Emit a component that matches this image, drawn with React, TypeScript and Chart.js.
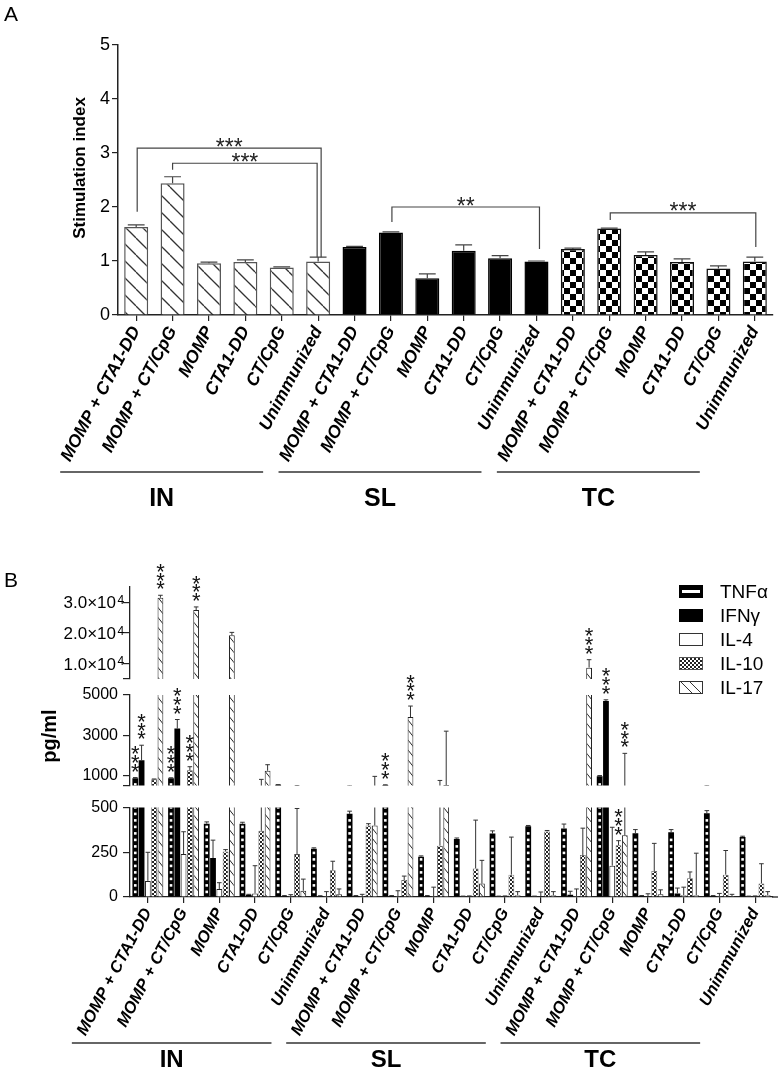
import React, { useEffect, useRef } from 'react';
import { Chart, registerables } from 'chart.js';

Chart.register(...registerables);

const FONT = '"Liberation Sans", Arial, Helvetica, sans-serif';
const INK = '#222222';

// ---------------- Panel A: stimulation index ----------------
const groupNames = ['IN', 'SL', 'TC'];
const treatments = ['MOMP + CTA1-DD', 'MOMP + CT/CpG', 'MOMP', 'CTA1-DD', 'CT/CpG', 'Unimmunized'];
const categories = groupNames.flatMap(() => treatments);

const siValues = [1.63, 2.44, 0.96, 0.98, 0.88, 0.99, 1.26, 1.53, 0.68, 1.19, 1.05, 0.99, 1.22, 1.6, 1.11, 0.98, 0.86, 0.99];
const siErrors = [0.04, 0.12, 0.02, 0.04, 0.01, 0.08, 0.01, 0.01, 0.08, 0.11, 0.05, 0.01, 0.02, 0.01, 0.06, 0.06, 0.05, 0.08];
const siTicks = [0, 1, 2, 3, 4, 5];
const siBracketPairs = [[0, 5], [1, 5], [7, 11], [13, 17]];
const siBracketLevels = [3.09, 2.81, 2.0, 1.89];
const siBracketLegEnds = [[1.91, 1.07], [2.69, 1.07], [1.72, 1.22], [1.76, 1.26]];
const siBracketLabels = ['***', '***', '**', '***'];

// ---------------- Panel B: cytokines (pg/ml) ----------------
const cytokines = ['TNFα', 'IFNγ', 'IL-4', 'IL-10', 'IL-17'];
const tnfValues = [850, 850, 410, 410, 530, 270, 465, 520, 225, 325, 355, 395, 383, 950, 357, 362, 468, 335];
const tnfErrors = [40, 30, 10, 8, 10, 5, 15, 10, 5, 5, 15, 5, 25, 40, 20, 15, 15, 5];
const ifnValues = [1750, 3330, 218, 12, 5, 5, 5, 5, 5, 3, 3, 3, 12, 4700, 5, 20, 5, 3];
const ifnErrors = [750, 450, 100, 3, 3, 2, 3, 3, 3, 2, 2, 2, 20, 60, 3, 30, 3, 2];
const il4Values = [90, 240, 45, 20, 5, 5, 5, 5, 5, 3, 3, 3, 5, 175, 3, 10, 5, 3];
const il4Errors = [160, 125, 35, 155, 8, 25, 10, 30, 50, 3, 3, 25, 40, 215, 15, 45, 15, 3];
const il10Values = [800, 1250, 255, 370, 240, 150, 400, 95, 287, 160, 125, 367, 235, 290, 145, 105, 125, 76];
const il10Errors = [20, 180, 10, 430, 255, 50, 10, 22, 460, 270, 210, 5, 150, 25, 155, 35, 135, 110];
const il17Values = [31500, 27500, 19300, 1230, 35, 15, 400, 3900, 520, 75, 10, 10, 8700, 345, 15, 10, 5, 10];
const il17Errors = [800, 1000, 900, 300, 65, 30, 550, 550, 2680, 130, 20, 20, 2600, 1750, 25, 235, 10, 20];

const seriesValues = [tnfValues, ifnValues, il4Values, il10Values, il17Values];
const seriesErrors = [tnfErrors, ifnErrors, il4Errors, il10Errors, il17Errors];

// broken y axis: top, middle, bottom segments
const segmentRanges = [[5000, 35000], [500, 5000], [0, 500]];
const segmentTicks = [[5000, 10000, 20000, 30000], [500, 1000, 3000, 5000], [0, 250, 500]];
const segmentLabelled = [[10000, 20000, 30000], [1000, 3000, 5000], [0, 250, 500]];

// significance marks: [category index, cytokine index]
const starMarks = [[0, 0], [0, 1], [0, 4], [1, 0], [1, 1], [1, 3], [1, 4], [7, 0], [7, 4], [12, 4], [13, 1], [13, 3], [13, 4]];

// ---------------- helpers ----------------
function makePattern(w: number, h: number, paint: (g: CanvasRenderingContext2D) => void) {
  const c = document.createElement('canvas');
  c.width = w;
  c.height = h;
  const g = c.getContext('2d') as CanvasRenderingContext2D;
  paint(g);
  return g.createPattern(c, 'repeat') as CanvasPattern;
}

function diagPattern(w: number, h: number, lw: number, color: string) {
  return makePattern(w, h, (g) => {
    g.fillStyle = '#fff';
    g.fillRect(0, 0, w, h);
    g.strokeStyle = color;
    g.lineWidth = lw;
    for (const dx of [-w, 0, w]) {
      g.beginPath();
      g.moveTo(dx, 0);
      g.lineTo(dx + w, h);
      g.stroke();
    }
  });
}

function checkerPattern(cell: number, color: string) {
  return makePattern(cell * 2, cell * 2, (g) => {
    g.fillStyle = '#fff';
    g.fillRect(0, 0, cell * 2, cell * 2);
    g.fillStyle = color;
    g.fillRect(0, 0, cell, cell);
    g.fillRect(cell, cell, cell, cell);
  });
}

function centeredText(ctx: CanvasRenderingContext2D, text: string, x: number, yc: number) {
  const m = ctx.measureText(text);
  ctx.textBaseline = 'alphabetic';
  ctx.fillText(text, x, yc + (m.actualBoundingBoxAscent - m.actualBoundingBoxDescent) / 2);
}

function clipArea(chart: any) {
  const a = chart.chartArea;
  chart.ctx.beginPath();
  chart.ctx.rect(a.left, a.top, a.right - a.left, a.bottom - a.top);
  chart.ctx.clip();
}

const errorBarPlugin = {
  id: 'errorBars',
  afterDatasetsDraw(chart: any) {
    const { ctx } = chart;
    const ys = chart.scales.y;
    ctx.save();
    clipArea(chart);
    chart.data.datasets.forEach((ds: any, di: number) => {
      if (!ds.errors) return;
      const meta = chart.getDatasetMeta(di);
      meta.data.forEach((el: any, i: number) => {
        const e = ds.errors[i];
        if (!e) return;
        const p = el.getProps(['x', 'y', 'width'], true);
        const yErr = ys.getPixelForValue(ds.data[i] + e);
        const cap = (p.width * ds.capRatio) / 2;
        ctx.strokeStyle = ds.errorColor;
        ctx.lineWidth = ds.errorWidth;
        ctx.beginPath();
        ctx.moveTo(p.x, p.y);
        ctx.lineTo(p.x, yErr);
        ctx.moveTo(p.x - cap, yErr);
        ctx.lineTo(p.x + cap, yErr);
        ctx.stroke();
      });
    });
    ctx.restore();
  },
};

// white squares inside the TNFα bars
const dotsPlugin = {
  id: 'whiteDots',
  afterDatasetsDraw(chart: any) {
    const { ctx, chartArea: a } = chart;
    ctx.save();
    clipArea(chart);
    ctx.fillStyle = '#fff';
    chart.data.datasets.forEach((ds: any, di: number) => {
      if (!ds.whiteDots) return;
      chart.getDatasetMeta(di).data.forEach((el: any) => {
        const p = el.getProps(['x', 'y', 'base'], true);
        const top = Math.min(p.y, p.base);
        const bottom = Math.max(p.y, p.base);
        const step = 6.5;
        let k = Math.max(0, Math.floor((bottom - a.bottom) / step) - 1);
        for (; ; k++) {
          const yy = bottom - 4.5 - k * step;
          if (yy < top + 2.5 || yy < a.top - 5) break;
          ctx.fillRect(p.x - 1.3, yy - 1.3, 2.6, 2.6);
        }
      });
    });
    ctx.restore();
  },
};

function groupDecor(ctx: CanvasRenderingContext2D, xs: any, lineY: number, labelY: number, size: number) {
  ctx.save();
  ctx.strokeStyle = '#333';
  ctx.lineWidth = 1.3;
  ctx.fillStyle = '#000';
  ctx.font = `bold ${size}px ${FONT}`;
  ctx.textAlign = 'center';
  groupNames.forEach((g, gi) => {
    const first = gi * treatments.length;
    const last = first + treatments.length - 1;
    const x1 = xs.getPixelForValue(first) - 76;
    const x2 = xs.getPixelForValue(last) - 55;
    ctx.beginPath();
    ctx.moveTo(x1, lineY);
    ctx.lineTo(x2, lineY);
    ctx.stroke();
    centeredText(ctx, g, (x1 + x2) / 2, labelY);
  });
  ctx.restore();
}

// ---------------- chart builders ----------------
function buildChartA(canvas: HTMLCanvasElement) {
  const hatch = diagPattern(17, 17, 1.3, '#333');
  const checker = checkerPattern(6, '#000');
  const fills = categories.map((_, i) => [hatch, '#000', checker][Math.floor(i / treatments.length)]);
  const borders = categories.map((_, i) => ['#555', '#000', '#111'][Math.floor(i / treatments.length)]);

  const decorA = {
    id: 'decorA',
    afterDraw(chart: any) {
      const { ctx } = chart;
      const xs = chart.scales.x;
      const ys = chart.scales.y;
      ctx.save();
      ctx.fillStyle = '#000';
      ctx.font = `21px ${FONT}`;
      ctx.textAlign = 'left';
      ctx.textBaseline = 'alphabetic';
      ctx.fillText('A', 4, 21);

      ctx.save();
      ctx.translate(80, 168);
      ctx.rotate(-Math.PI / 2);
      ctx.font = `bold 17px ${FONT}`;
      ctx.textAlign = 'center';
      ctx.textBaseline = 'middle';
      ctx.fillText('Stimulation index', 0, 0);
      ctx.restore();

      const nudges = [[1, 3], [0, -1], [1, 3], [1, 1]];
      siBracketPairs.forEach(([a, b], k) => {
        const x1 = xs.getPixelForValue(a) + nudges[k][0];
        const x2 = xs.getPixelForValue(b) + nudges[k][1];
        const yt = ys.getPixelForValue(siBracketLevels[k]);
        ctx.strokeStyle = '#444';
        ctx.lineWidth = 1.2;
        ctx.beginPath();
        ctx.moveTo(x1, ys.getPixelForValue(siBracketLegEnds[k][0]));
        ctx.lineTo(x1, yt);
        ctx.lineTo(x2, yt);
        ctx.lineTo(x2, ys.getPixelForValue(siBracketLegEnds[k][1]));
        ctx.stroke();
        ctx.fillStyle = '#222';
        ctx.font = `23px ${FONT}`;
        ctx.textAlign = 'center';
        centeredText(ctx, siBracketLabels[k], (x1 + x2) / 2, yt - 6);
      });
      ctx.restore();
      groupDecor(ctx, xs, 472, 497, 25);
    },
  };

  return new Chart(canvas, {
    type: 'bar',
    data: {
      labels: categories,
      datasets: [
        {
          data: siValues,
          errors: siErrors,
          capRatio: 0.7,
          errorColor: '#444',
          errorWidth: 1.2,
          backgroundColor: fills,
          borderColor: borders,
          borderWidth: 1.5,
          barPercentage: 0.66,
          categoryPercentage: 1,
          clip: 0,
        } as any,
      ],
    },
    options: {
      animation: false,
      responsive: false,
      maintainAspectRatio: false,
      layout: { padding: { left: 0, right: 9, top: 45, bottom: 0 } },
      plugins: { legend: { display: false }, tooltip: { enabled: false } },
      scales: {
        x: {
          grid: { offset: false, drawOnChartArea: false, drawTicks: true, tickLength: 6, color: INK, lineWidth: 1.2 },
          border: { color: INK, width: 1.5 },
          ticks: {
            autoSkip: false,
            minRotation: 62,
            maxRotation: 62,
            padding: 2,
            color: '#000',
            font: { family: FONT, size: 17.5, weight: 'bold', style: 'italic' },
          },
          afterFit: (s: any) => {
            s.height = 205;
          },
        },
        y: {
          min: 0,
          max: 5,
          afterBuildTicks: (s: any) => {
            s.ticks = siTicks.map((v) => ({ value: v }));
          },
          grid: { drawOnChartArea: false, drawTicks: true, tickLength: 6, color: INK, lineWidth: 1.2 },
          border: { color: INK, width: 1.5 },
          ticks: { color: '#000', padding: 2, font: { family: FONT, size: 18 } },
          afterFit: (s: any) => {
            s.width = 118;
          },
        },
      } as any,
    },
    plugins: [errorBarPlugin, decorA],
  });
}

function buildSegment(canvas: HTMLCanvasElement, seg: number, padTop: number, padBottom: number) {
  const [lo, hi] = segmentRanges[seg];
  const isBottom = seg === segmentRanges.length - 1;
  const fineChecker = checkerPattern(2, '#222');
  const hatch = diagPattern(8, 10, 1, '#222');
  const fills = ['#000', '#000', '#fff', fineChecker, hatch];
  const borders = ['#000', '#000', '#222', '#555', '#222'];
  const widths = [0, 0, 1, 0.8, 1];

  const decor = {
    id: 'decorB' + seg,
    afterDraw(chart: any) {
      const { ctx } = chart;
      const ys = chart.scales.y;
      ctx.save();
      // significance stars
      ctx.fillStyle = '#111';
      ctx.font = `22px ${FONT}`;
      ctx.textAlign = 'center';
      starMarks.forEach(([ci, si]) => {
        const v = seriesValues[si][ci] + seriesErrors[si][ci];
        if (v < lo || v >= hi) return;
        const el = chart.getDatasetMeta(si).data[ci];
        const py = ys.getPixelForValue(v);
        for (let k = 0; k < 3; k++) centeredText(ctx, '*', el.x, py - 10 - k * 8.7);
      });

      if (seg === 0) {
        ctx.fillStyle = '#000';
        ctx.textAlign = 'left';
        ctx.font = `21px ${FONT}`;
        ctx.textBaseline = 'alphabetic';
        ctx.fillText('B', 4, 47);
        // scientific tick labels
        segmentLabelled[0].forEach((v) => {
          const y = ys.getPixelForValue(v);
          const exp = Math.floor(Math.log10(v));
          const mant = (v / Math.pow(10, exp)).toFixed(1);
          ctx.font = `17px ${FONT}`;
          ctx.textAlign = 'right';
          centeredText(ctx, `${mant}×10`, 116, y);
          ctx.font = `12px ${FONT}`;
          ctx.textAlign = 'left';
          ctx.textBaseline = 'alphabetic';
          ctx.fillText(String(exp), 117.5, y + 1.5);
        });
        // legend
        cytokines.forEach((name, i) => {
          const bx = 679;
          const by = 45 + i * 24;
          const w = 24;
          const h = 13;
          ctx.lineWidth = 1;
          if (i === 0) {
            ctx.fillStyle = '#000';
            ctx.fillRect(bx, by, w, h);
            ctx.fillStyle = '#fff';
            ctx.fillRect(bx + 3, by + 5, w - 6, 3);
          } else if (i === 1) {
            ctx.fillStyle = '#000';
            ctx.fillRect(bx, by, w, h);
          } else if (i === 2) {
            ctx.fillStyle = '#fff';
            ctx.fillRect(bx, by, w, h);
            ctx.strokeStyle = '#333';
            ctx.strokeRect(bx + 0.5, by + 0.5, w - 1, h - 1);
          } else if (i === 3) {
            ctx.fillStyle = fineChecker;
            ctx.fillRect(bx, by, w, h);
            ctx.strokeStyle = '#555';
            ctx.strokeRect(bx + 0.5, by + 0.5, w - 1, h - 1);
          } else {
            ctx.fillStyle = '#fff';
            ctx.fillRect(bx, by, w, h);
            ctx.strokeStyle = '#333';
            ctx.strokeRect(bx + 0.5, by + 0.5, w - 1, h - 1);
            ctx.beginPath();
            ctx.moveTo(bx + 2, by + 1);
            ctx.lineTo(bx + 13, by + 12);
            ctx.moveTo(bx + 11, by + 1);
            ctx.lineTo(bx + 22, by + 12);
            ctx.stroke();
          }
          ctx.fillStyle = '#000';
          ctx.font = `19px ${FONT}`;
          ctx.textAlign = 'left';
          ctx.textBaseline = 'middle';
          ctx.fillText(name, bx + 41, by + h / 2 + 1);
        });
      }
      if (seg === 1) {
        ctx.save();
        ctx.translate(50, 136);
        ctx.rotate(-Math.PI / 2);
        ctx.fillStyle = '#000';
        ctx.font = `bold 20px ${FONT}`;
        ctx.textAlign = 'center';
        ctx.textBaseline = 'middle';
        ctx.fillText('pg/ml', 0, 0);
        ctx.restore();
      }
      ctx.restore();
      if (isBottom) {
        // extend the x axis line slightly past the last category, as in the original
        const a = chart.chartArea;
        ctx.save();
        ctx.strokeStyle = INK;
        ctx.lineWidth = 1.3;
        ctx.beginPath();
        ctx.moveTo(a.right - 1, a.bottom);
        ctx.lineTo(a.right + 5, a.bottom);
        ctx.stroke();
        ctx.restore();
        groupDecor(ctx, chart.scales.x, 250, 265, 24);
      }
    },
  };

  const datasets = cytokines.map((name, si) => ({
    label: name,
    data: seriesValues[si],
    errors: seriesErrors[si],
    capRatio: 0.8,
    errorColor: '#333',
    errorWidth: 1,
    whiteDots: si === 0,
    backgroundColor: fills[si],
    borderColor: borders[si],
    borderWidth: widths[si],
    barPercentage: 0.92,
    categoryPercentage: 0.88,
    clip: 0,
  })) as any[];

  return new Chart(canvas, {
    type: 'bar',
    data: { labels: categories, datasets },
    options: {
      animation: false,
      responsive: false,
      maintainAspectRatio: false,
      layout: { padding: { left: 0, right: 9, top: padTop, bottom: padBottom } },
      plugins: { legend: { display: false }, tooltip: { enabled: false } },
      scales: {
        x: isBottom
          ? {
              grid: { offset: false, drawOnChartArea: false, drawTicks: true, tickLength: 6, color: INK, lineWidth: 1.2 },
              border: { color: INK, width: 1.3 },
              ticks: {
                autoSkip: false,
                minRotation: 62,
                maxRotation: 62,
                padding: 2,
                color: '#000',
                font: { family: FONT, size: 16.5, weight: 'bold', style: 'italic' },
              },
              afterFit: (s: any) => {
                s.height = 173;
              },
            }
          : { display: false, grid: { offset: false } },
        y: {
          min: lo,
          max: hi,
          afterBuildTicks: (s: any) => {
            s.ticks = segmentTicks[seg].map((v) => ({ value: v }));
          },
          grid: { drawOnChartArea: false, drawTicks: true, tickLength: 7, color: INK, lineWidth: 1.2 },
          border: { color: INK, width: 1.3 },
          ticks: {
            color: '#000',
            padding: 5,
            font: { family: FONT, size: 16 },
            callback: (v: any) => (seg > 0 && segmentLabelled[seg].includes(v) ? String(v) : ''),
          },
          afterFit: (s: any) => {
            s.width = 130;
          },
        },
      } as any,
    },
    plugins: [dotsPlugin, errorBarPlugin, decor],
  });
}

export default function App() {
  const aRef = useRef<HTMLCanvasElement>(null);
  const topRef = useRef<HTMLCanvasElement>(null);
  const midRef = useRef<HTMLCanvasElement>(null);
  const lowRef = useRef<HTMLCanvasElement>(null);

  useEffect(() => {
    const charts: Chart[] = [];
    if (aRef.current) charts.push(buildChartA(aRef.current));
    if (topRef.current) charts.push(buildSegment(topRef.current, 0, 47, 21));
    if (midRef.current) charts.push(buildSegment(midRef.current, 1, 95, 12));
    if (lowRef.current) charts.push(buildSegment(lowRef.current, 2, 10, 0));
    return () => charts.forEach((c) => c.destroy());
  }, []);

  const abs = (top: number): React.CSSProperties => ({ position: 'absolute', left: 0, top, display: 'block' });

  return (
    <div style={{ position: 'absolute', left: 0, top: 0, width: 782, height: 1070, background: '#fff', overflow: 'hidden' }}>
      <canvas ref={aRef} width={782} height={520} style={abs(0)} />
      <canvas ref={topRef} width={782} height={160} style={abs(540)} />
      <canvas ref={midRef} width={782} height={200} style={abs(600)} />
      <canvas ref={lowRef} width={782} height={277} style={abs(793)} />
    </div>
  );
}
